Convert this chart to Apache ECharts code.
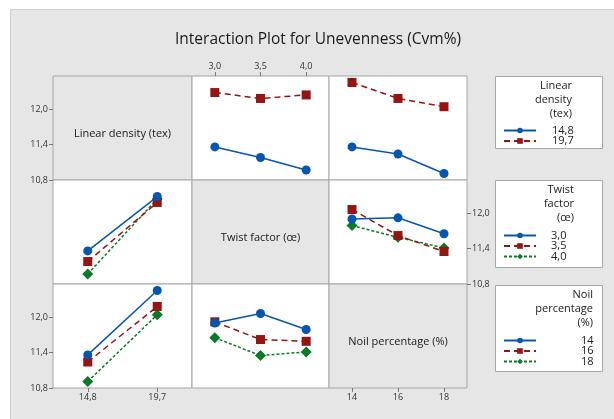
<!DOCTYPE html>
<html>
<head>
<meta charset="utf-8">
<script src="https://cdn.jsdelivr.net/npm/echarts@6/dist/echarts.min.js"></script>
<style>
html, body { margin: 0; padding: 0; background: #fff; }
#main { width: 614px; height: 419px; }
</style>
</head>
<body>
<div id="main"></div>
<script>
var factorNames = ['Linear density (tex)', 'Twist factor (œ)', 'Noil percentage (%)'];
var legendTitles = ['Linear\ndensity\n(tex)', 'Twist\nfactor\n(œ)', 'Noil\npercentage\n(%)'];
var ldLevels = ['14,8', '19,7'];
var tfLevels = ['3,0', '3,5', '4,0'];
var noilLevels = ['14', '16', '18'];
var yTicks = [10.8, 11.4, 12.0];

// cell means: rows = levels of first factor, columns = levels of second factor
var ldByTf = [[11.36, 11.18, 10.97], [12.28, 12.18, 12.24]];
var ldByNoil = [[11.36, 11.24, 10.91], [12.45, 12.18, 12.04]];
var tfByNoil = [[11.90, 11.92, 11.65], [12.06, 11.62, 11.35], [11.79, 11.59, 11.41]];

var levels = [ldLevels, tfLevels, noilLevels];

function transpose(m) {
  return m[0].map(function (_, j) { return m.map(function (row) { return row[j]; }); });
}
// table[r][c] : traces = levels of factor r, x = levels of factor c
var table = [
  [null, ldByTf, ldByNoil],
  [transpose(ldByTf), null, tfByNoil],
  [transpose(ldByNoil), transpose(tfByNoil), null]
];

var colors = ['#0656b0', '#951414', '#0a7a29'];
var symbols = ['circle', 'rect', 'diamond'];
var symSizes = [9, 9, 11];
var lineTypes = ['solid', [6, 4], [3, 2]];

var colLeft = [53, 192, 329], colW = [139, 137, 138];
var rowTop = [76, 180, 284], rowH = 104;
var font = 'Open Sans';
var fmt = function (v) { return Number(v).toFixed(1).replace('.', ','); };

var grids = [], xAxes = [], yAxes = [], series = [];
for (var r = 0; r < 3; r++) {
  for (var c = 0; c < 3; c++) {
    var gi = r * 3 + c;
    var diag = r === c;
    grids.push({
      left: colLeft[c], top: rowTop[r], width: colW[c], height: rowH,
      show: true, backgroundColor: diag ? '#e6e6e6' : '#ffffff',
      borderColor: '#a6a6a6', borderWidth: 1
    });
    var showX = (gi === 1) || (gi === 6) || (gi === 8);
    xAxes.push({
      type: 'category', gridIndex: gi, data: levels[c],
      position: gi === 1 ? 'top' : 'bottom',
      boundaryGap: true,
      axisLine: { show: false },
      axisTick: { show: showX, alignWithLabel: true, length: 4, lineStyle: { color: '#777' } },
      axisLabel: { show: showX, fontFamily: font, fontSize: 9, color: '#333', margin: 5 },
      splitLine: { show: false }
    });
    var showY = (gi === 0) || (gi === 6) || (gi === 5);
    yAxes.push({
      type: 'value', gridIndex: gi, min: 10.8, max: 12.56,
      position: gi === 5 ? 'right' : 'left',
      axisLine: { show: false },
      axisTick: { show: showY, length: 4, customValues: yTicks, lineStyle: { color: '#777' } },
      axisLabel: { show: showY, customValues: yTicks, formatter: fmt, fontFamily: font, fontSize: 9, color: '#333', margin: 5 },
      splitLine: { show: false }
    });
    if (!diag) {
      table[r][c].forEach(function (vals, k) {
        series.push({
          type: 'line', name: levels[r][k], xAxisIndex: gi, yAxisIndex: gi,
          data: vals, symbol: symbols[k], symbolSize: symSizes[k],
          color: colors[k],
          lineStyle: { color: colors[k], width: 1.5, type: lineTypes[k] },
          itemStyle: { color: colors[k] },
          animation: false, z: 3 - k
        });
      });
    }
  }
}

var legendBoxes = [
  { top: 76, h: 72, right: 572, pad: 11, itemTop: 120 },
  { top: 180, h: 87, right: 574, pad: 10, itemTop: 225 },
  { top: 285, h: 86, right: 593, pad: 40, itemTop: 330 }
];
var legends = legendBoxes.map(function (b, i) {
  return {
    orient: 'vertical', left: 498, top: b.itemTop,
    data: levels[i], itemWidth: 32, itemHeight: 7, itemGap: -0.5,
    selectedMode: false,
    textStyle: { fontFamily: font, fontSize: 11, color: '#222', padding: [0, 0, 0, b.pad] }
  };
});

var graphics = [
  { type: 'rect', shape: { x: 10.5, y: 9.5, width: 610, height: 420 }, style: { fill: '#e6e6e6', stroke: '#d0d0d0' }, z: -100 }
];
legendBoxes.forEach(function (b, i) {
  graphics.push({ type: 'rect', shape: { x: 495.5, y: b.top + 0.5, width: 107, height: b.h }, style: { fill: '#fff', stroke: '#a6a6a6' }, z: -50 });
  graphics.push({ type: 'text', x: b.right, y: b.top + 3, style: { text: legendTitles[i], fontFamily: font, fontSize: 11, fill: '#222', align: 'right', lineHeight: 14 }, z: 10 });
});
for (var d = 0; d < 3; d++) {
  graphics.push({ type: 'text', x: colLeft[d] + colW[d] / 2, y: rowTop[d] + rowH / 2 + 6,
    style: { text: factorNames[d], fontFamily: font, fontSize: 11, fill: '#1a1a1a', align: 'center', verticalAlign: 'middle' }, z: 10 });
}

var chart = echarts.init(document.getElementById('main'));
chart.setOption({
  backgroundColor: '#ffffff',
  animation: false,
  title: {
    text: 'Interaction Plot for Unevenness (Cvm%)',
    left: 313, top: 27, textAlign: 'center',
    textStyle: { fontFamily: font, fontSize: 15.5, fontWeight: 500, color: '#1a1a1a' }
  },
  grid: grids,
  xAxis: xAxes,
  yAxis: yAxes,
  legend: legends,
  graphic: graphics,
  series: series
});
</script>
</body>
</html>
